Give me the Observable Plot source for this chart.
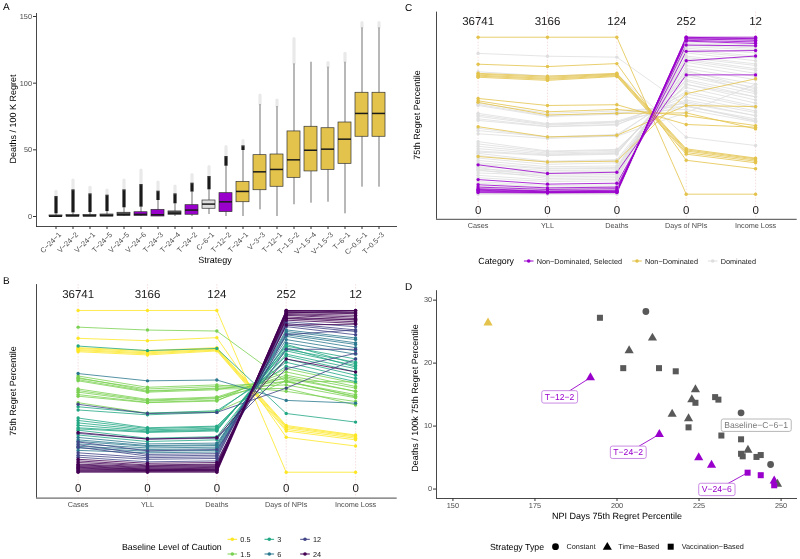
<!DOCTYPE html>
<html><head><meta charset="utf-8">
<script src="https://cdn.jsdelivr.net/npm/d3@7"></script>
<script src="https://cdn.jsdelivr.net/npm/@observablehq/plot@0.6"></script>
<style>
body{margin:0;background:#fff;}
#fig{position:relative;width:800px;height:559px;overflow:hidden;font-family:"Liberation Sans",Arial,sans-serif;}
#fig > div{will-change:transform;}
#fig text{-webkit-font-smoothing:antialiased;text-rendering:geometricPrecision;}
</style></head><body><div id="fig"></div>
<script>
// ---------------- Panel A data ----------------
const strategies = ["C−24−1","V−24−2","V−24−1","T−24−5","V−24−5","V−24−6","T−24−3","T−24−4","T−24−2","C−6−1","T−12−2","T−24−1","V−3−3","T−12−1","T−1.5−2","V−1.5−4","V−1.5−3","T−6−1","C−0.5−1","T−0.5−3"];
const boxQ1  = [0, 0, 0, 0, 0.5, 0.5, 0, 1.3, 1.3, 5.8, 3.3, 10.7, 19.7, 22.3, 29, 33.8, 35, 39.5, 59.8, 59.8];
const boxMed = [0.2, 0.5, 0.5, 0.7, 1.5, 1.6, 1.3, 2.5, 4.8, 9.3, 11, 18.8, 33.5, 35.3, 42.5, 49.7, 50.5, 58, 77.3, 77.3];
const boxQ3  = [0.8, 1.1, 1.2, 1.5, 2.8, 3.2, 5, 3.8, 8.5, 12, 17.5, 26, 46, 46.5, 63.8, 67.3, 66.2, 70.5, 92.8, 92.8];
const whiskerLo = [0, 0, 0, 0, 0, 0, 0, 0, 0, 1.5, 0, 0, 5, 0, 8.8, 10, 10.7, 2, 22, 22];
const whiskerHi = [2, 2.7, 3, 3.7, 6.5, 7, 12, 9.5, 18.3, 20, 37.7, 49.5, 84, 82.5, 114.5, 115.7, 112, 115.7, 141.5, 141.5];
const outlierDense = [15, 20, 17, 16, 20, 24, 19, 17, 25, 30, 45, 53, 84, 82.5, 114.5, 115.7, 112, 115.7, 141.5, 141.5];
const outlierMax = [18.5, 27, 21.5, 19.5, 27, 34.5, 25.5, 22.5, 31, 37, 52, 56.5, 90.7, 87, 133, 115.7, 115, 122, 145, 145];
const strategyGroup = ["D","D","D","D","D","S","S","D","S","B","S","N","N","N","N","N","N","N","N","N"];

// ---------------- Panels B & C data (normalised 0..1) ----------------
const pcAxes = ["Cases","YLL","Deaths","Days of NPIs","Income Loss"];
const pcAxisMax = ["36741","3166","124","252","12"];
const pcCases = [1.000,0.828,0.770,0.765,0.758,0.752,0.745,0.897,0.780,0.610,
 0.595,0.585,0.580,0.572,0.565,0.515,0.505,0.495,0.480,0.470,
 0.430,0.420,0.405,0.385,0.335,0.320,0.305,0.290,0.275,0.268,
 0.260,0.246,0.240,0.230,0.215,0.200,0.190,0.187,0.175,0.170,
 0.160,0.155,0.150,0.135,0.120,0.105,0.093,0.080,0.070,0.060,
 0.050,0.045,0.040,0.035,0.030,0.025,0.020,0.015,0.010,0.005,0.000];
const pcYLL = [1.000,0.813,0.752,0.745,0.738,0.732,0.725,0.879,0.752,0.565,
 0.525,0.505,0.515,0.500,0.495,0.450,0.445,0.440,0.432,0.430,
 0.365,0.363,0.365,0.355,0.275,0.270,0.262,0.255,0.250,0.246,
 0.210,0.205,0.205,0.190,0.175,0.165,0.160,0.132,0.150,0.110,
 0.140,0.100,0.130,0.120,0.090,0.080,0.064,0.055,0.045,0.040,
 0.035,0.030,0.025,0.020,0.018,0.015,0.012,0.010,0.008,0.005,0.000];
const pcDeaths = [1.000,0.832,0.770,0.765,0.760,0.755,0.750,0.873,0.765,0.570,
 0.540,0.515,0.530,0.520,0.510,0.465,0.460,0.455,0.445,0.440,
 0.375,0.370,0.380,0.370,0.285,0.280,0.272,0.265,0.260,0.255,
 0.220,0.215,0.210,0.200,0.180,0.170,0.165,0.140,0.155,0.115,
 0.145,0.105,0.135,0.125,0.095,0.085,0.070,0.060,0.050,0.045,
 0.040,0.035,0.030,0.025,0.020,0.018,0.015,0.012,0.010,0.005,0.000];
const pcNPI = [0.000,0.216,0.289,0.282,0.275,0.265,0.255,0.560,0.363,0.444,
 0.500,0.518,0.560,0.540,0.580,0.600,0.565,0.620,0.590,0.640,
 0.565,0.520,0.655,0.680,0.700,0.720,0.730,0.750,0.760,0.780,
 0.770,0.700,0.640,0.790,0.800,0.820,0.840,0.760,0.850,0.900,
 0.860,0.910,0.870,0.880,0.920,0.930,0.850,0.940,0.950,0.910,
 0.960,0.950,0.970,0.975,0.980,0.990,0.990,1.000,1.000,0.995,0.985];
const pcIncome = [0.000,0.162,0.230,0.225,0.218,0.210,0.200,0.470,0.310,0.427,
 0.437,0.416,0.480,0.460,0.500,0.520,0.465,0.530,0.500,0.550,
 0.558,0.700,0.560,0.580,0.600,0.620,0.640,0.660,0.680,0.700,
 0.650,0.620,0.735,0.670,0.730,0.750,0.770,0.760,0.790,0.850,
 0.800,0.870,0.820,0.830,0.880,0.900,0.880,0.920,0.930,0.915,
 0.940,0.945,0.950,0.960,0.970,0.980,0.990,1.000,0.990,1.000,0.985];
const pcCaution = [0.5,0.5,0.5,0.5,0.5,0.5,0.5,1.5,3,6,
 1.5,1.5,1.5,1.5,1.5,1.5,1.5,1.5,1.5,1.5,
 1.5,12,3,3,3,3,3,3,3,3,
 3,24,12,3,6,6,6,12,6,12,
 6,12,6,6,12,12,12,24,24,24,
 24,24,24,24,24,24,24,24,24,24,24];
const pcCategory = ["N","N","N","N","N","N","N","D","D","N",
 "N","N","D","D","D","D","D","D","D","D",
 "N","D","D","D","D","D","D","D","D","D",
 "D","D","N","D","D","D","D","S","D","D",
 "D","D","D","D","D","D","S","D","D","S",
 "D","S","D","S","S","S","S","S","S","D","D"];
const cautionLevels = [0.5, 1.5, 3, 6, 12, 24];
const cautionColors = ["#FDE725","#7AD151","#22A884","#2A788E","#414487","#440154"];

// ---------------- Panel D data ----------------
const npiDays = [160.7,194.8,208.8,210.8,203.7,201.9,212.8,217.9,191.9,223.9,222.8,223.9,229.9,230.9,216.8,221.8,221.8,237.8,212.9,231.8,237.8,239.9,237.8,238.3,242.5,243.8,224.9,228.8,246.8,239.8,243.8,247.9,248.9,247.9];
const deathsP75 = [26.4,27.2,28.2,24.0,22.0,19.2,19.2,18.7,17.7,15.8,14.2,13.7,14.6,14.2,11.9,11.2,9.8,12.1,8.7,8.5,7.9,6.2,5.6,5.2,5.1,5.4,5.0,3.8,3.9,2.6,2.2,1.3,0.8,0.6];
const stratType = ["T","V","C","T","T","V","V","V","T","T","T","V","V","V","T","T","V","C","T","V","V","T","V","V","V","V","T","T","C","V","V","T","T","V"];
const stratStatus = ["N","D","D","D","D","D","D","D","S","D","D","D","D","D","D","D","D","D","S","D","D","D","D","D","D","D","S","S","D","S","S","S","D","S"];
const labelNames = ["T−12−2","T−24−2","V−24−6","Baseline−C−6−1"];
const labelPointX = [191.9, 212.9, 239.8, 237.8];
const labelPointY = [17.7, 8.7, 2.6, 12.1];
const labelX = [182.5, 203.4, 230.4, 242.4];
const labelY = [14.6, 5.8, -0.1, 10.1];
const labelKind = ["S","S","S","B"];

// ---------------- styling ----------------
const PURPLE = "#9A00CC", YELLOW = "#E3C34B", DGREY = "#595959", LGREY = "#DEDEDE";
const FONT = "'Liberation Sans', Arial, sans-serif";
const AX = "#333333", TXT = "#4d4d4d";
const fig = document.getElementById("fig");
function place(node, left, top) {
  const d = document.createElement("div");
  d.style.position = "absolute"; d.style.left = left + "px"; d.style.top = top + "px";
  d.appendChild(node); fig.appendChild(d); return node;
}
const baseStyle = {fontFamily: FONT, background: "transparent", overflow: "visible"};

// ---------------- Panel A ----------------
const boxRows = strategies.map((s, i) => ({s, q1: boxQ1[i], med: boxMed[i], q3: boxQ3[i], lo: whiskerLo[i], hi: whiskerHi[i], od: outlierDense[i], om: outlierMax[i], g: strategyGroup[i]}));
const plotA = Plot.plot({
  width: 400, height: 268, marginLeft: 36, marginRight: 3, marginTop: 13, marginBottom: 42,
  style: baseStyle,
  x: {domain: strategies, paddingInner: 0.25, paddingOuter: 0.225, align: 0.5},
  y: {domain: [-7.5, 152.25]},
  color: {domain: ["D","S","B","N"], range: [DGREY, PURPLE, LGREY, YELLOW]},
  marks: [
    Plot.ruleX(boxRows, {x: "s", y1: "lo", y2: "hi", stroke: AX, strokeWidth: 0.7}),
    Plot.ruleX(boxRows.filter(d => d.od > d.hi), {x: "s", y1: "hi", y2: "od", stroke: "#1a1a1a", strokeWidth: 3.2}),
    Plot.ruleX(boxRows.filter(d => d.om > d.od), {x: "s", y1: "od", y2: "om", stroke: "#999", strokeOpacity: 0.22, strokeWidth: 3.2, strokeLinecap: "round"}),
    Plot.barY(boxRows, {x: "s", y1: "q1", y2: "q3", fill: "g", stroke: AX, strokeWidth: 0.7}),
    Plot.tickY(boxRows, {x: "s", y: "med", stroke: "#1a1a1a", strokeWidth: 1.5}),
    Plot.axisY({ticks: [0, 50, 100, 150], tickSize: 3, tickPadding: 1.5, fontSize: 7.3, fill: TXT, stroke: AX, label: null}),
    Plot.axisX({tickSize: 3, tickFormat: () => "", label: null, stroke: AX}),
    Plot.text(strategies, {x: d => d, frameAnchor: "bottom", dx: 2, dy: 5, rotate: -45, textAnchor: "end", lineAnchor: "top", fontSize: 7.3, fill: TXT}),
    Plot.frame({anchor: "left", stroke: AX, strokeWidth: 0.9}),
    Plot.ruleY([-7.5], {stroke: AX, strokeWidth: 0.9})
  ]
});
place(plotA, 0, 0);

// ---------------- Panels B & C ----------------
const axisIdx = pcAxes.map((d, i) => i + 1);
const pcCols = [pcCases, pcYLL, pcDeaths, pcNPI, pcIncome];
function parcoord(colorKey, colorScale, sortKey, h, mt, mb) {
  const ids = d3.range(pcCases.length).sort((a, b) => sortKey(a) - sortKey(b) || a - b);
  const data = [];
  ids.forEach(id => pcCols.forEach((col, k) => data.push({id, k: k + 1, v: col[id], caution: pcCaution[id], cat: pcCategory[id]})));
  return Plot.plot({
    width: 400, height: h, marginLeft: 36, marginRight: 3.3, marginTop: mt, marginBottom: mb,
    style: baseStyle,
    x: {domain: [0.4, 5.6]},
    y: {domain: [-0.16, 1.16], axis: null},
    color: colorScale,
    marks: [
      Plot.ruleX(axisIdx, {x: d => d, stroke: "#f3caca", strokeWidth: 0.6, strokeDasharray: "1.5,1.5"}),
      Plot.line(data, {x: "k", y: "v", z: "id", stroke: colorKey, strokeWidth: 1, strokeOpacity: 0.8}),
      Plot.dot(data, {x: "k", y: "v", fill: colorKey, r: 1.7}),
      Plot.text(axisIdx, {x: d => d, y: () => 1.1, text: (d, i) => pcAxisMax[i], fontSize: 11.5, fill: "#1a1a1a"}),
      Plot.text(axisIdx, {x: d => d, y: () => -0.1, text: () => "0", fontSize: 11.5, fill: "#1a1a1a"}),
      Plot.axisX({ticks: axisIdx, tickFormat: d => pcAxes[d - 1], tickSize: 0, tickPadding: 4, fontSize: 7.3, fill: TXT, label: null}),
      Plot.ruleX([0.4], {stroke: AX, strokeWidth: 0.9}),
      Plot.ruleY([-0.16], {stroke: AX, strokeWidth: 0.9})
    ]
  });
}
const plotB = parcoord("caution", {type: "ordinal", domain: cautionLevels, range: cautionColors}, id => pcCaution[id], 230, 4.1, 12.4);
place(plotB, 0, 280);
const catOrder = {D: 0, N: 1, S: 2};
const plotC = parcoord("cat", {type: "ordinal", domain: ["S","N","D"], range: [PURPLE, YELLOW, LGREY]}, id => catOrder[pcCategory[id]], 235, 11.6, 16.2);
place(plotC, 400, 0);

// ---------------- Panel D ----------------
const typeName = {C: "Constant", T: "Time−Based", V: "Vaccination−Based"};
const dRows = npiDays.map((x, i) => ({x, y: deathsP75[i], type: typeName[stratType[i]], status: stratStatus[i]}));
const lblRows = labelNames.map((name, i) => ({name, lx: labelX[i], ly: labelY[i], px: labelPointX[i], py: labelPointY[i], kind: labelKind[i]}));
const plotD = Plot.plot({
  width: 400, height: 240, marginLeft: 36, marginRight: 3, marginTop: 10.2, marginBottom: 22,
  style: baseStyle,
  x: {domain: [145, 255]},
  y: {domain: [-1.5, 31.5]},
  symbol: {domain: ["Constant","Time−Based","Vaccination−Based"], range: ["circle","triangle","square"]},
  color: {domain: ["S","N","D"], range: [PURPLE, YELLOW, DGREY]},
  marks: [
    Plot.axisX({ticks: [150, 175, 200, 225, 250], tickSize: 3, tickPadding: 1.5, fontSize: 7.3, fill: TXT, stroke: AX, label: null}),
    Plot.axisY({ticks: [0, 10, 20, 30], tickSize: 3, tickPadding: 1.5, fontSize: 7.3, fill: TXT, stroke: AX, label: null}),
    Plot.ruleX([145], {stroke: AX, strokeWidth: 0.9}),
    Plot.ruleY([-1.5], {stroke: AX, strokeWidth: 0.9}),
    Plot.link(lblRows.filter(d => d.kind === "S"), {x1: "lx", y1: "ly", x2: "px", y2: "py", stroke: PURPLE, strokeWidth: 0.9}),
    Plot.dot(dRows, {x: "x", y: "y", symbol: "type", fill: "status", r: 3.4}),
    Plot.text(lblRows, {x: "lx", y: "ly", text: "name", fontSize: 8.6, fill: d => d.kind === "S" ? PURPLE : "#7a7a7a"})
  ]
});
place(plotD, 400, 280);
// label boxes (ggrepel-style)
d3.select(plotD).selectAll('g[aria-label="text"] text').each(function() {
  const bb = this.getBBox();
  const col = this.getAttribute("fill") || d3.select(this.parentNode).attr("fill");
  const stroke = col === "#7a7a7a" ? "#b0b0b0" : "#c47fe0";
  const r = document.createElementNS("http://www.w3.org/2000/svg", "rect");
  r.setAttribute("x", bb.x - 3); r.setAttribute("y", bb.y - 1.2);
  r.setAttribute("width", bb.width + 6); r.setAttribute("height", bb.height + 2.4);
  r.setAttribute("rx", 2); r.setAttribute("fill", "white"); r.setAttribute("stroke", stroke); r.setAttribute("stroke-width", 0.9);
  const tr = this.getAttribute("transform"); if (tr) r.setAttribute("transform", tr);
  this.parentNode.insertBefore(r, this);
});

// ---------------- overlay: panel letters, axis titles, legends ----------------
const ov = d3.create("svg").attr("width", 800).attr("height", 559)
  .style("position", "absolute").style("left", "0px").style("top", "0px").style("font-family", FONT);
function txt(x, y, s, size, opts = {}) {
  const t = ov.append("text").attr("x", x).attr("y", y).text(s).attr("font-size", size)
    .attr("fill", opts.fill || "#000").attr("text-anchor", opts.anchor || "start")
    .attr("dominant-baseline", opts.baseline || "central");
  if (opts.rotate) t.attr("transform", `rotate(${opts.rotate},${x},${y})`);
  return t;
}
txt(3, 10, "A", 10, {baseline: "alphabetic"});
txt(3, 284, "B", 10, {baseline: "alphabetic"});
txt(405, 10.5, "C", 10, {baseline: "alphabetic"});
txt(405, 289.5, "D", 10, {baseline: "alphabetic"});
txt(13, 119, "Deaths / 100 K Regret", 9, {anchor: "middle", rotate: -90});
txt(215, 259.5, "Strategy", 9, {anchor: "middle"});
txt(12.5, 391, "75th Regret Percentile", 9, {anchor: "middle", rotate: -90});
txt(417, 115, "75th Regret Percentile", 9, {anchor: "middle", rotate: -90});
txt(415, 398, "Deaths / 100k 75th Regret Percentile", 9, {anchor: "middle", rotate: -90});
txt(617, 515.5, "NPI Days 75th Regret Percentile", 9, {anchor: "middle"});

// legend B
txt(122, 546.7, "Baseline Level of Caution", 8.8);
const colX = [232.3, 269.3, 305], rowY = [539.3, 554];
cautionLevels.forEach((c, i) => {
  const kx = colX[Math.floor(i / 2)], ky = rowY[i % 2];
  ov.append("line").attr("x1", kx - 4.8).attr("x2", kx + 4.8).attr("y1", ky).attr("y2", ky).attr("stroke", cautionColors[i]).attr("stroke-width", 1);
  ov.append("circle").attr("cx", kx).attr("cy", ky).attr("r", 1.8).attr("fill", cautionColors[i]);
  txt(kx + 8, ky, String(c), 7.3, {fill: "#1a1a1a"});
});
// legend C
txt(478.3, 261, "Category", 8.8);
const catLabels = ["Non−Dominated, Selected", "Non−Dominated", "Dominated"];
const catColors = [PURPLE, YELLOW, LGREY];
const catKeyX = [528.7, 637, 712.7];
catLabels.forEach((s, i) => {
  const kx = catKeyX[i], ky = 261;
  ov.append("line").attr("x1", kx - 4.8).attr("x2", kx + 4.8).attr("y1", ky).attr("y2", ky).attr("stroke", catColors[i]).attr("stroke-width", 1);
  ov.append("circle").attr("cx", kx).attr("cy", ky).attr("r", 1.8).attr("fill", catColors[i]);
  txt(kx + 8, ky, s, 7.3, {fill: "#1a1a1a"});
});
// legend D
txt(490, 546.7, "Strategy Type", 8.8);
const symNames = ["Constant", "Time−Based", "Vaccination−Based"];
const symTypes = [d3.symbolCircle, d3.symbolTriangle, d3.symbolSquare];
const symKeyX = [555.5, 607.3, 670.7];
symNames.forEach((s, i) => {
  ov.append("path").attr("d", d3.symbol(symTypes[i], Math.PI * 3.4 * 3.4)()).attr("transform", `translate(${symKeyX[i]},${546.7 + (i === 1 ? 0.5 : 0)})`).attr("fill", "#000");
  txt(symKeyX[i] + 11, 546.7, s, 7.3, {fill: "#1a1a1a"});
});
fig.appendChild(ov.node());
</script></body></html>
